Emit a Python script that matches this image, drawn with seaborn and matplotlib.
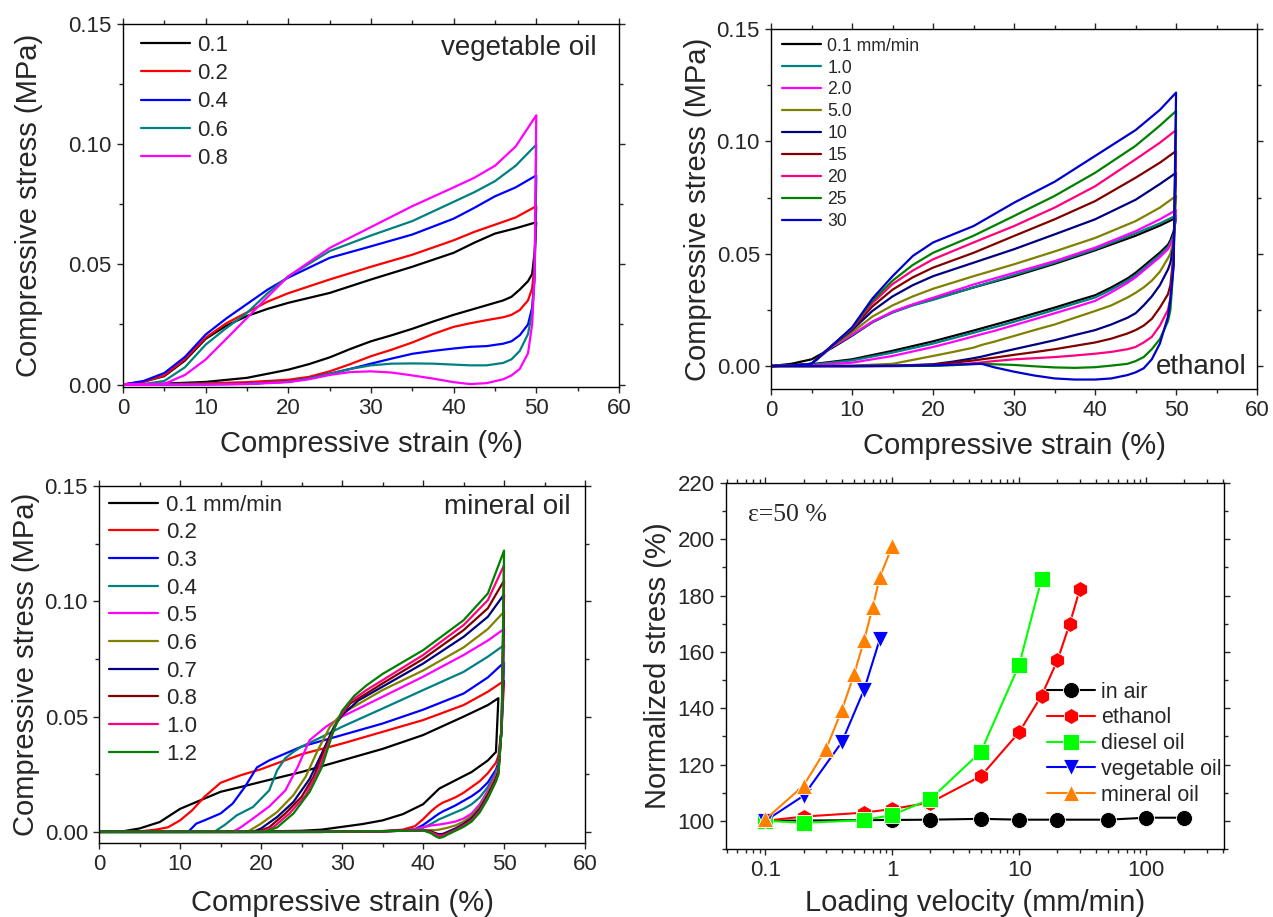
import numpy as np
import pandas as pd
import matplotlib
matplotlib.use('Agg')
from matplotlib import pyplot as plt
from matplotlib.ticker import MultipleLocator, FixedLocator, LogLocator, NullFormatter
import seaborn as sns

# ---------------- vegetable oil (top left) ----------------
veg_rates = ['0.1', '0.2', '0.4', '0.6', '0.8']
veg_colors = ['#000000', '#FF0000', '#0000FF', '#008080', '#FF00FF']
veg_load_x = [0, 2.5, 5, 7.5, 10, 12.5, 15, 17.5, 20, 25, 30, 35, 40, 42.5, 45, 47.5, 50]
veg_load_y = [
    [0, 0.0012, 0.0035, 0.0100, 0.0190, 0.0245, 0.0285, 0.0315, 0.0340, 0.0381, 0.0437, 0.0490, 0.0548, 0.0590, 0.0628, 0.0650, 0.0675],
    [0, 0.0012, 0.0038, 0.0105, 0.0195, 0.0255, 0.0300, 0.0345, 0.0380, 0.0437, 0.0490, 0.0540, 0.0600, 0.0635, 0.0665, 0.0695, 0.0742],
    [0, 0.0015, 0.0048, 0.0115, 0.0208, 0.0275, 0.0335, 0.0395, 0.0445, 0.0527, 0.0575, 0.0624, 0.0690, 0.0735, 0.0783, 0.0820, 0.0870],
    [0, 0.0002, 0.0015, 0.0072, 0.0166, 0.0235, 0.0298, 0.0380, 0.0450, 0.0555, 0.0620, 0.0680, 0.0760, 0.0800, 0.0846, 0.0910, 0.0998],
    [0, 0, 0.0003, 0.0040, 0.0104, 0.0190, 0.0277, 0.0365, 0.0450, 0.0568, 0.0655, 0.0742, 0.0820, 0.0860, 0.0910, 0.0990, 0.1120],
]
veg_unload_x = [50, 49.8, 49.5, 49, 48, 47, 46, 44, 42, 40, 37.5, 35, 32.5, 30, 27.5, 25, 22.5, 20, 15, 10, 5, 0]
veg_unload_y = [
    [0.0675, 0.055, 0.046, 0.0430, 0.0395, 0.0365, 0.0350, 0.0330, 0.0310, 0.0290, 0.0262, 0.0232, 0.0205, 0.0180, 0.0148, 0.0113, 0.0085, 0.0062, 0.0028, 0.0011, 0.0004, 0],
    [0.0742, 0.050, 0.040, 0.0350, 0.0310, 0.0290, 0.0280, 0.0268, 0.0255, 0.0240, 0.0210, 0.0175, 0.0145, 0.0118, 0.0085, 0.0055, 0.0032, 0.0020, 0.0010, 0.0005, 0.0002, 0],
    [0.0870, 0.045, 0.032, 0.0250, 0.0205, 0.0180, 0.0170, 0.0160, 0.0157, 0.0150, 0.0140, 0.0128, 0.0108, 0.0087, 0.0065, 0.0045, 0.0025, 0.0012, 0.0003, 0.0001, 0, 0],
    [0.0998, 0.045, 0.030, 0.0210, 0.0140, 0.0105, 0.0090, 0.0080, 0.0080, 0.0083, 0.0087, 0.0088, 0.0087, 0.0080, 0.0065, 0.0045, 0.0025, 0.0012, 0.0003, 0.0001, 0, 0],
    [0.1120, 0.045, 0.025, 0.0130, 0.0065, 0.0038, 0.0022, 0.0006, 0.0002, 0.0010, 0.0025, 0.0038, 0.0050, 0.0055, 0.0052, 0.0040, 0.0022, 0.0010, 0.0002, 0, 0, 0],
]

# ---------------- ethanol (top right) ----------------
eth_rates = ['0.1 mm/min', '1.0', '2.0', '5.0', '10', '15', '20', '25', '30']
eth_colors = ['#000000', '#008080', '#FF00FF', '#808000', '#000080', '#800000', '#FF0080', '#008000', '#0000CC']
eth_load_x = [0, 2.5, 5, 7.5, 10, 12.5, 15, 17.5, 20, 25, 30, 35, 40, 45, 48, 50]
eth_load_y = [
    [0, 0.0010, 0.0030, 0.0080, 0.0135, 0.0195, 0.0240, 0.0272, 0.0297, 0.0350, 0.0400, 0.0455, 0.0515, 0.0580, 0.0625, 0.0660],
    [0, 0.0002, 0.0010, 0.0085, 0.0138, 0.0195, 0.0238, 0.0270, 0.0295, 0.0350, 0.0405, 0.0460, 0.0520, 0.0590, 0.0635, 0.0670],
    [0, 0.0002, 0.0010, 0.0085, 0.0140, 0.0198, 0.0242, 0.0275, 0.0304, 0.0363, 0.0415, 0.0467, 0.0527, 0.0600, 0.0653, 0.0694],
    [0, 0.0002, 0.0010, 0.0088, 0.0150, 0.0220, 0.0270, 0.0310, 0.0344, 0.0400, 0.0453, 0.0510, 0.0570, 0.0645, 0.0705, 0.0757],
    [0, 0.0002, 0.0010, 0.0090, 0.0160, 0.0245, 0.0310, 0.0360, 0.0400, 0.0460, 0.0520, 0.0586, 0.0653, 0.0740, 0.0810, 0.0860],
    [0, 0.0002, 0.0010, 0.0090, 0.0165, 0.0265, 0.0340, 0.0395, 0.0438, 0.0504, 0.0579, 0.0653, 0.0734, 0.0838, 0.0905, 0.0957],
    [0, 0.0002, 0.0010, 0.0090, 0.0168, 0.0280, 0.0365, 0.0425, 0.0475, 0.0550, 0.0623, 0.0705, 0.0800, 0.0920, 0.0994, 0.1050],
    [0, 0.0002, 0.0010, 0.0090, 0.0170, 0.0290, 0.0380, 0.0450, 0.0504, 0.0580, 0.0668, 0.0757, 0.0860, 0.0980, 0.1070, 0.1135],
    [0, 0.0002, 0.0010, 0.0090, 0.0172, 0.0300, 0.0400, 0.0490, 0.0550, 0.0623, 0.0727, 0.0820, 0.0935, 0.1050, 0.1140, 0.1217],
]
eth_unload_x = [50, 49.7, 49.3, 49, 48, 47, 46, 45, 44, 42, 40, 37.5, 35, 32.5, 30, 27.5, 26, 25, 22.5, 20, 15, 10, 5, 0]
eth_unload_y = [
    [0.0660, 0.060, 0.056, 0.054, 0.0505, 0.0475, 0.0445, 0.0415, 0.0390, 0.0350, 0.0315, 0.0288, 0.0260, 0.0234, 0.0208, 0.0183, 0.0168, 0.0158, 0.0134, 0.0110, 0.0068, 0.0030, 0.0008, 0],
    [0.0670, 0.058, 0.055, 0.053, 0.0495, 0.0465, 0.0435, 0.0405, 0.0380, 0.0340, 0.0305, 0.0278, 0.0250, 0.0223, 0.0197, 0.0172, 0.0158, 0.0148, 0.0124, 0.0100, 0.0060, 0.0025, 0.0006, 0],
    [0.0694, 0.057, 0.054, 0.052, 0.0485, 0.0455, 0.0425, 0.0395, 0.0370, 0.0328, 0.0290, 0.0262, 0.0235, 0.0208, 0.0182, 0.0156, 0.0142, 0.0132, 0.0108, 0.0085, 0.0045, 0.0015, 0.0003, 0],
    [0.0757, 0.056, 0.050, 0.048, 0.0420, 0.0380, 0.0350, 0.0326, 0.0305, 0.0270, 0.0245, 0.0215, 0.0185, 0.0160, 0.0134, 0.0108, 0.0094, 0.0082, 0.0063, 0.0045, 0.0010, 0.0002, 0, 0],
    [0.0860, 0.054, 0.046, 0.043, 0.0360, 0.0310, 0.0270, 0.0235, 0.0215, 0.0185, 0.0160, 0.0138, 0.0115, 0.0095, 0.0075, 0.0055, 0.0042, 0.0035, 0.0020, 0.0008, 0.0001, 0, 0, 0],
    [0.0957, 0.050, 0.036, 0.032, 0.0260, 0.0210, 0.0180, 0.0160, 0.0145, 0.0122, 0.0105, 0.0090, 0.0075, 0.0062, 0.0050, 0.0037, 0.0030, 0.0025, 0.0015, 0.0006, 0.0001, 0, 0, 0],
    [0.1050, 0.048, 0.030, 0.025, 0.0180, 0.0130, 0.0105, 0.0085, 0.0075, 0.0063, 0.0055, 0.0047, 0.0040, 0.0035, 0.0030, 0.0022, 0.0016, 0.0013, 0.0006, 0.0002, 0, 0, 0, 0],
    [0.1135, 0.045, 0.025, 0.020, 0.0120, 0.0075, 0.0040, 0.0022, 0.0010, 0.0002, -0.0005, -0.0008, -0.0006, -0.0001, 0.0005, 0.0008, 0.0010, 0.0009, 0.0004, 0.0001, 0, 0, 0, 0],
    [0.1217, 0.045, 0.030, 0.022, 0.0100, 0.0030, -0.0010, -0.0028, -0.0040, -0.0055, -0.0060, -0.0060, -0.0055, -0.0042, -0.0025, -0.0005, 0.0010, 0.0009, 0.0006, 0.0003, 0.0001, 0, 0, 0],
]

# ---------------- mineral oil (bottom left) ----------------
min_rates = ['0.1 mm/min', '0.2', '0.3', '0.4', '0.5', '0.6', '0.7', '0.8', '1.0', '1.2']
min_colors = ['#000000', '#FF0000', '#0000FF', '#008080', '#FF00FF', '#808000', '#000080', '#800000', '#FF0080', '#008000']
min_load_x = [
    [0, 3, 5, 7.5, 10, 12.5, 15, 17.5, 20, 25, 30, 35, 40, 45, 48, 49.3],
    [0, 5, 7, 8.5, 10, 11.5, 13, 15, 17.5, 20, 25, 30, 35, 40, 45, 48, 50],
    [0, 11, 12, 13, 15, 16.5, 18, 19.5, 21, 23, 25, 30, 35, 40, 45, 48, 50],
    [0, 14.2, 15.5, 17, 19, 21, 22, 23, 24, 25, 27.5, 30, 35, 40, 45, 48, 50],
    [0, 16.5, 17.5, 19, 21, 23, 24.5, 26, 28, 30, 35, 40, 45, 48, 50],
    [0, 18.3, 20, 22, 24, 25.5, 27, 28.5, 30, 35, 40, 45, 48, 50],
    [0, 19, 20, 22, 24, 26, 27.5, 29, 30, 32, 35, 40, 45, 48, 50],
    [0, 19.5, 21, 23, 25, 26.5, 28, 29.5, 31, 33, 35, 40, 45, 48, 50],
    [0, 20, 21.5, 23.5, 25.5, 27, 28.5, 29.5, 31, 33, 35, 40, 45, 48, 50],
    [0, 20.5, 22, 24, 26, 27.5, 29, 30, 31.5, 33, 35, 40, 45, 48, 50],
]
min_load_y = [
    [0, 0.0003, 0.0015, 0.0043, 0.0100, 0.0137, 0.0174, 0.0195, 0.0217, 0.0260, 0.0310, 0.0360, 0.0420, 0.0500, 0.0550, 0.0580],
    [0, 0.0002, 0.0010, 0.0020, 0.0050, 0.0094, 0.0152, 0.0213, 0.0246, 0.0272, 0.0337, 0.0383, 0.0434, 0.0485, 0.0550, 0.0608, 0.0655],
    [0, 0, 0.0036, 0.0050, 0.0080, 0.0123, 0.0195, 0.0280, 0.0310, 0.0340, 0.0370, 0.0420, 0.0470, 0.0530, 0.0600, 0.0670, 0.0735],
    [0, 0, 0.0030, 0.0072, 0.0108, 0.0180, 0.0268, 0.0320, 0.0347, 0.0370, 0.0412, 0.0456, 0.0535, 0.0615, 0.0694, 0.0760, 0.0810],
    [0, 0, 0.0020, 0.0058, 0.0110, 0.0180, 0.0280, 0.0398, 0.0456, 0.0500, 0.0586, 0.0673, 0.0767, 0.0830, 0.0880],
    [0, 0, 0.0036, 0.0087, 0.0160, 0.0239, 0.0354, 0.0456, 0.0514, 0.0615, 0.0700, 0.0800, 0.0880, 0.0955],
    [0, 0, 0.0015, 0.0065, 0.0130, 0.0230, 0.0340, 0.0456, 0.0506, 0.0570, 0.0630, 0.0730, 0.0846, 0.0933, 0.1030],
    [0, 0, 0.0020, 0.0080, 0.0152, 0.0240, 0.0370, 0.0485, 0.0557, 0.0600, 0.0644, 0.0750, 0.0875, 0.0970, 0.1090],
    [0, 0, 0.0020, 0.0080, 0.0159, 0.0260, 0.0400, 0.0490, 0.0565, 0.0615, 0.0658, 0.0767, 0.0897, 0.1005, 0.1157],
    [0, 0, 0.0020, 0.0080, 0.0174, 0.0280, 0.0445, 0.0525, 0.0590, 0.0635, 0.0685, 0.0788, 0.0918, 0.1034, 0.1220],
]
min_unload_x = [50, 49.7, 49.3, 49, 48, 47, 46, 45, 44, 43, 42.5, 42, 41.5, 41, 40, 39, 37.5, 35, 32.5, 30, 27.5, 25, 20, 10, 0]
min_unload_y = [
    None,
    [0.0655, 0.045, 0.033, 0.030, 0.0255, 0.0220, 0.0195, 0.0170, 0.0150, 0.0135, 0.0128, 0.0118, 0.0105, 0.0090, 0.0055, 0.0025, 0.0010, 0.0004, 0.0002, 0.0002, 0.0001, 0.0001, 0, 0, 0],
    [0.0735, 0.045, 0.030, 0.027, 0.0215, 0.0180, 0.0155, 0.0135, 0.0115, 0.0098, 0.0090, 0.0080, 0.0068, 0.0055, 0.0030, 0.0012, 0.0006, 0.0003, 0.0002, 0.0001, 0.0001, 0, 0, 0, 0],
    [0.0810, 0.045, 0.029, 0.026, 0.0195, 0.0150, 0.0120, 0.0100, 0.0085, 0.0070, 0.0062, 0.0055, 0.0045, 0.0035, 0.0018, 0.0010, 0.0006, 0.0003, 0.0002, 0.0001, 0, 0, 0, 0, 0],
    [0.0880, 0.045, 0.028, 0.025, 0.0180, 0.0120, 0.0080, 0.0058, 0.0045, 0.0038, 0.0035, 0.0032, 0.0030, 0.0028, 0.0020, 0.0012, 0.0006, 0.0003, 0.0002, 0.0001, 0, 0, 0, 0, 0],
    [0.0955, 0.045, 0.027, 0.024, 0.0170, 0.0110, 0.0070, 0.0045, 0.0028, 0.0018, 0.0014, 0.0010, 0.0008, 0.0008, 0.0008, 0.0006, 0.0005, 0.0003, 0.0002, 0.0001, 0, 0, 0, 0, 0],
    [0.1030, 0.045, 0.026, 0.023, 0.0160, 0.0100, 0.0060, 0.0035, 0.0015, 0.0000, -0.0008, -0.0010, -0.0005, 0.0002, 0.0007, 0.0006, 0.0005, 0.0003, 0.0002, 0.0001, 0, 0, 0, 0, 0],
    [0.1090, 0.045, 0.026, 0.023, 0.0155, 0.0095, 0.0055, 0.0030, 0.0010, -0.0005, -0.0012, -0.0015, -0.0008, 0.0000, 0.0007, 0.0006, 0.0005, 0.0003, 0.0002, 0.0001, 0, 0, 0, 0, 0],
    [0.1157, 0.045, 0.025, 0.022, 0.0150, 0.0090, 0.0050, 0.0027, 0.0008, -0.0008, -0.0015, -0.0018, -0.0010, -0.0002, 0.0007, 0.0006, 0.0005, 0.0003, 0.0002, 0.0001, 0, 0, 0, 0, 0],
    [0.1220, 0.045, 0.025, 0.022, 0.0145, 0.0085, 0.0045, 0.0022, 0.0005, -0.0012, -0.0022, -0.0026, -0.0018, -0.0006, 0.0007, 0.0006, 0.0005, 0.0003, 0.0002, 0.0001, 0, 0, 0, 0, 0],
]
# the 0.1 mm/min loop turns back a little before 50 %
min_black_unload_x = [49.3, 49, 48, 46, 44, 42, 40, 37.5, 35, 32.5, 30, 27.5, 25, 20, 10, 0]
min_black_unload_y = [0.0580, 0.0347, 0.0310, 0.0260, 0.0224, 0.0188, 0.0120, 0.0077, 0.0050, 0.0034, 0.0022, 0.0010, 0.0005, 0.0002, 0, 0]

# ---------------- normalized stress vs loading velocity (bottom right) ----------------
media = ['in air', 'ethanol', 'diesel oil', 'vegetable oil', 'mineral oil']
media_colors = ['#000000', '#FF0000', '#00FF00', '#0000FF', '#FF8000']
media_markers = ['o', 'h', 's', 'v', '^']
air_v = [0.1, 1, 2, 5, 10, 20, 50, 100, 200]
air_s = [100, 100.3, 100.4, 100.7, 100.4, 100.4, 100.4, 101.1, 101.1]
ethanol_v = [0.1, 0.2, 0.6, 1, 2, 5, 10, 15, 20, 25, 30]
ethanol_s = [100, 101.5, 102.9, 104.2, 106.5, 115.9, 131.5, 144.5, 157.0, 170.0, 182.2]
diesel_v = [0.1, 0.2, 0.6, 1, 2, 5, 10, 15]
diesel_s = [100, 99.3, 100.2, 102.1, 107.7, 124.6, 155.5, 185.9]
vegetable_v = [0.1, 0.2, 0.4, 0.6, 0.8]
vegetable_s = [100, 108.9, 127.9, 146.6, 164.7]
mineral_v = [0.1, 0.2, 0.3, 0.4, 0.5, 0.6, 0.7, 0.8, 1.0]
mineral_s = [100.5, 112.5, 125.4, 139.2, 152.0, 164.1, 175.8, 186.7, 197.6]


def loops_frame(rates, load_x, load_y, unload_x, unload_y):
    parts = []
    for i, r in enumerate(rates):
        xs = list(load_x[i]) + list(unload_x[i])
        ys = list(load_y[i]) + list(unload_y[i])
        parts.append(pd.DataFrame({'strain': xs, 'stress': ys, 'rate': r}))
    return pd.concat(parts, ignore_index=True)


sns.set_theme(style='ticks')
plt.rcParams['font.family'] = ['Liberation Sans', 'DejaVu Sans']
plt.rcParams['axes.linewidth'] = 1.0
plt.rcParams['axes.edgecolor'] = 'black'

fig = plt.figure(figsize=(12.73, 9.17), dpi=100)
ax1 = fig.add_axes([0.0966, 0.578, 0.3896, 0.3959])
ax2 = fig.add_axes([0.6057, 0.5758, 0.3818, 0.3926])
ax3 = fig.add_axes([0.0778, 0.0807, 0.3818, 0.3893])
ax4 = fig.add_axes([0.5703, 0.0742, 0.3912, 0.3991])

n = len(veg_rates)
veg_df = loops_frame(veg_rates, [veg_load_x] * n, veg_load_y, [veg_unload_x] * n, veg_unload_y)
n = len(eth_rates)
eth_df = loops_frame(eth_rates, [eth_load_x] * n, eth_load_y, [eth_unload_x] * n, eth_unload_y)
min_ux = [min_black_unload_x] + [min_unload_x] * (len(min_rates) - 1)
min_uy = [min_black_unload_y] + min_unload_y[1:]
min_df = loops_frame(min_rates, min_load_x, min_load_y, min_ux, min_uy)

panels = [
    (ax1, veg_df, veg_rates, veg_colors, 16, 0.33, (0.036, 0.970), 18, 8),
    (ax2, eth_df, eth_rates, eth_colors, 12.7, 0.28, (0.023, 0.976), 3, 8),
    (ax3, min_df, min_rates, min_colors, 16, 0.30, (0.021, 0.976), 3, 10),
]
for ax, df, rates, colors, lfs, lsp, anchor, ypad, xpad in panels:
    sns.lineplot(data=df, x='strain', y='stress', hue='rate', hue_order=rates,
                 palette=colors, sort=False, estimator=None, errorbar=None,
                 lw=1.6, ax=ax)
    ax.set_xlim(0, 60)
    ax.xaxis.set_major_locator(MultipleLocator(10))
    ax.xaxis.set_minor_locator(MultipleLocator(5))
    ax.yaxis.set_major_locator(FixedLocator([0, 0.05, 0.10, 0.15]))
    ax.yaxis.set_minor_locator(MultipleLocator(0.025))
    ax.yaxis.set_major_formatter(plt.FuncFormatter(lambda v, p: '%.2f' % v))
    ax.set_xlabel('Compressive strain (%)', fontsize=21, labelpad=xpad)
    ax.set_ylabel('Compressive stress (MPa)', fontsize=21, labelpad=ypad)
    h, l = ax.get_legend_handles_labels()
    ax.legend(h, l, loc='upper left', bbox_to_anchor=anchor, frameon=False,
              fontsize=lfs, handlelength=2.2, handletextpad=0.35,
              labelspacing=lsp, borderpad=0, borderaxespad=0)

ax1.set_ylim(-0.001, 0.15)
ax2.set_ylim(-0.0102, 0.15)
ax3.set_ylim(-0.0048, 0.15)

ax1.text(0.956, 0.934, 'vegetable oil', transform=ax1.transAxes, ha='right', va='center', fontsize=20)
ax2.text(0.979, 0.061, 'ethanol', transform=ax2.transAxes, ha='right', va='center', fontsize=20)
ax3.text(0.971, 0.941, 'mineral oil', transform=ax3.transAxes, ha='right', va='center', fontsize=20)

# bottom right panel
vel_parts = []
for name, v, s in zip(media, [air_v, ethanol_v, diesel_v, vegetable_v, mineral_v],
                      [air_s, ethanol_s, diesel_s, vegetable_s, mineral_s]):
    vel_parts.append(pd.DataFrame({'velocity': v, 'stress': s, 'medium': name}))
vel_df = pd.concat(vel_parts, ignore_index=True)

sns.lineplot(data=vel_df, x='velocity', y='stress', hue='medium', style='medium',
             hue_order=media, style_order=media, palette=media_colors,
             markers=dict(zip(media, media_markers)), dashes=False, sort=False,
             estimator=None, errorbar=None, lw=1.5, markersize=11.5,
             markeredgewidth=0.6, ax=ax4)
ax4.set_xscale('log')
ax4.set_xlim(0.049, 410)
ax4.set_ylim(90, 220)
ax4.xaxis.set_major_locator(FixedLocator([0.1, 1, 10, 100]))
ax4.xaxis.set_major_formatter(plt.FixedFormatter(['0.1', '1', '10', '100']))
ax4.xaxis.set_minor_locator(LogLocator(base=10, subs=np.arange(2, 10) * 1.0, numticks=20))
ax4.xaxis.set_minor_formatter(NullFormatter())
ax4.yaxis.set_major_locator(MultipleLocator(20))
ax4.yaxis.set_minor_locator(MultipleLocator(10))
ax4.set_xlabel('Loading velocity (mm/min)', fontsize=21, labelpad=6)
ax4.set_ylabel('Normalized stress (%)', fontsize=21, labelpad=4)
h, l = ax4.get_legend_handles_labels()
ax4.legend(h, l, loc='upper left', bbox_to_anchor=(0.645, 0.457), frameon=False,
           fontsize=15.5, handlelength=2.2, handletextpad=0.3, labelspacing=0.22,
           borderpad=0, borderaxespad=0)
ax4.text(0.044, 0.913, 'ε=50 %', transform=ax4.transAxes, ha='left', va='center',
         fontsize=18.5, family=['Liberation Serif', 'DejaVu Serif'])

for ax in (ax1, ax2, ax3, ax4):
    ax.tick_params(which='both', direction='out', top=True, right=True, width=1.0)
    ax.tick_params(which='major', length=4.5, labelsize=16)
    ax.tick_params(which='minor', length=3)
    for sp in ax.spines.values():
        sp.set_linewidth(1.0)
        sp.set_color('black')

fig.savefig('out.png', dpi=100)
